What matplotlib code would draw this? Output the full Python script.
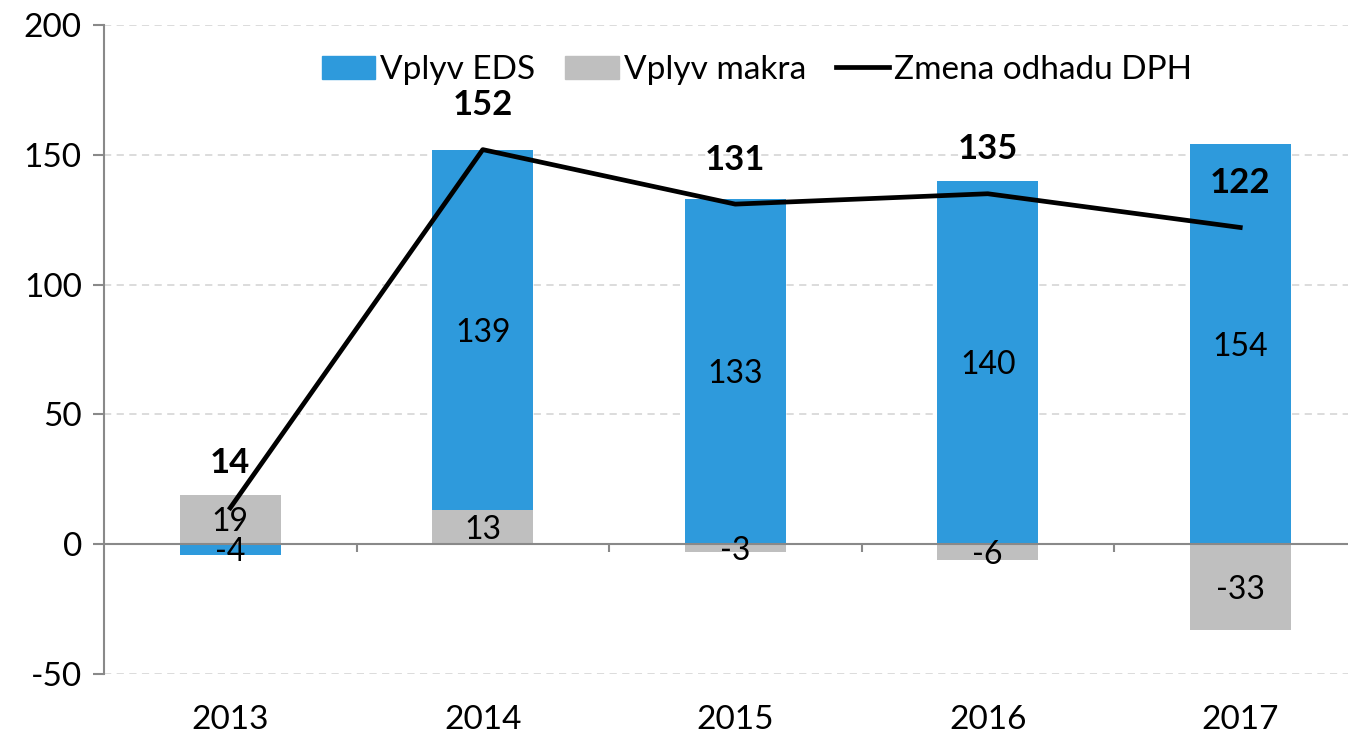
import matplotlib.pyplot as plt
import matplotlib.patches as mpatches
from matplotlib.lines import Line2D
import numpy as np

plt.rcParams['font.family'] = ['Lato', 'DejaVu Sans']
plt.rcParams['axes.unicode_minus'] = False

years = ["2013", "2014", "2015", "2016", "2017"]
vplyv_eds = [-4, 139, 133, 140, 154]
vplyv_makra = [19, 13, -3, -6, -33]
zmena_dph = [14, 152, 131, 135, 122]

blue = '#2E9ADC'
grey = '#BFBFBF'
axis_grey = '#898989'

fig = plt.figure(figsize=(13.48, 7.4), dpi=100)
ax = fig.add_axes([104 / 1348, 1 - 674 / 740, 1244 / 1348, 649 / 740])

x = np.arange(len(years))
bar_width = 0.4

# stack makra first, then EDS, positives and negatives separately
pos_base = np.zeros(len(years))
neg_base = np.zeros(len(years))
for vals, color in [(vplyv_makra, grey), (vplyv_eds, blue)]:
    vals = np.array(vals, dtype=float)
    bottoms = np.where(vals >= 0, pos_base, neg_base)
    ax.bar(x, vals, bar_width, bottom=bottoms, color=color, zorder=2)
    for xi, v, b in zip(x, vals, bottoms):
        ax.annotate(f"{int(v)}", (xi, b + v / 2), xytext=(0, -2), textcoords='offset points',
                    ha='center', va='center', fontsize=23, color='black', zorder=4)
    pos_base = np.where(vals >= 0, pos_base + vals, pos_base)
    neg_base = np.where(vals < 0, neg_base + vals, neg_base)

ax.plot(x, zmena_dph, color='black', linewidth=3.4, zorder=3)
for xi, v in zip(x, zmena_dph):
    ax.annotate(f"{v}", (xi, v), xytext=(0, 32), textcoords='offset points',
                ha='center', va='center', fontsize=25, fontweight='bold', zorder=5)

ax.set_xlim(-0.5, -0.5 + 1244 / 252.5)
ax.set_ylim(-50, 200)
ax.set_yticks([-50, 0, 50, 100, 150, 200])
ax.set_xticks(x)
ax.set_xticklabels(years)
ax.tick_params(axis='x', length=0, labelsize=24, pad=22)
ax.tick_params(axis='y', length=8, width=1.5, color=axis_grey, labelsize=24, pad=8)

for s in ['top', 'right', 'bottom']:
    ax.spines[s].set_visible(False)
ax.spines['left'].set_color(axis_grey)
ax.spines['left'].set_linewidth(1.5)

ax.yaxis.grid(True, linestyle=(0, (4, 3)), color='#D9D9D9', linewidth=1.3, zorder=0)
ax.set_axisbelow(True)

# zero line with category separator ticks
ax.axhline(0, color=axis_grey, linewidth=1.5, zorder=2.5)
ax.vlines(x[:-1] + 0.5, -3, 0, color=axis_grey, linewidth=1.5, zorder=2.5)

handles = [mpatches.Patch(color=blue, label='Vplyv EDS'),
           mpatches.Patch(color=grey, label='Vplyv makra'),
           Line2D([0], [0], color='black', linewidth=3.4, label='Zmena odhadu DPH')]
fig.legend(handles=handles, loc='center', bbox_to_anchor=(757 / 1348, 1 - 70 / 740),
           ncol=3, frameon=False, fontsize=24, handlelength=1.6,
           handletextpad=0.15, columnspacing=0.9)

fig.savefig('out.png', dpi=100)
